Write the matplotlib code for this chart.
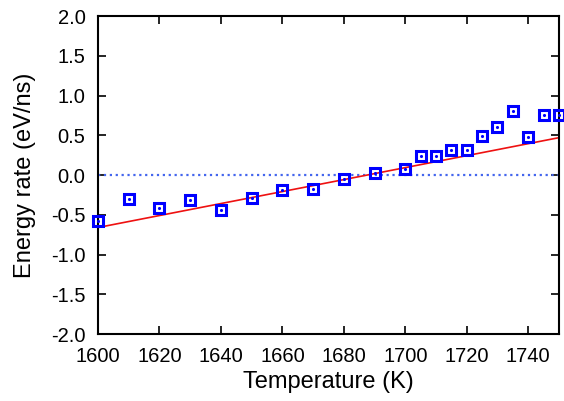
import matplotlib
matplotlib.use('Agg')
import matplotlib.pyplot as plt

plt.rcParams['font.family'] = ['Liberation Sans', 'DejaVu Sans']

# measured energy rates
temps = [1600, 1610, 1620, 1630, 1640, 1650, 1660, 1670, 1680, 1690, 1700,
         1705, 1710, 1715, 1720, 1725, 1730, 1735, 1740, 1745, 1750]
rates = [-0.58, -0.30, -0.41, -0.32, -0.44, -0.29, -0.19, -0.17, -0.05, 0.03, 0.08,
         0.24, 0.24, 0.32, 0.32, 0.49, 0.61, 0.81, 0.48, 0.76, 0.76]

# linear fit line (end points)
fit_t = [1600, 1750]
fit_r = [-0.66, 0.47]

xticks = [1600, 1620, 1640, 1660, 1680, 1700, 1720, 1740]
yticks = [-2.0, -1.5, -1.0, -0.5, 0.0, 0.5, 1.0, 1.5, 2.0]

fig = plt.figure(figsize=(5.64, 4.01), dpi=100)
ax = fig.add_axes([0.1738, 0.167, 0.8172, 0.793])

ax.axhline(0, color='#4466ee', linestyle=':', linewidth=1.6)
ax.plot(fit_t, fit_r, color='#ee1111', linewidth=1.2)
ax.plot(temps, rates, linestyle='none', marker='s', markersize=7.5,
        markerfacecolor='none', markeredgecolor='#0000ff', markeredgewidth=2.2,
        clip_on=False, zorder=5)
ax.plot(temps, rates, linestyle='none', marker='.', markersize=2.5,
        color='#0000ff', clip_on=False, zorder=6)

ax.set_xlim(1600, 1750)
ax.set_ylim(-2.0, 2.0)
ax.set_xticks(xticks)
ax.set_yticks(yticks)
ax.set_yticklabels([f'{v:.1f}' for v in yticks])
ax.tick_params(direction='in', length=6, width=1.2, top=True, right=True,
               labelsize=14.5, pad=9)
for s in ax.spines.values():
    s.set_linewidth(1.5)

ax.set_xlabel('Temperature (K)', fontsize=17, labelpad=4)
ax.set_ylabel('Energy rate (eV/ns)', fontsize=17, labelpad=11)

plt.savefig('out.png', dpi=100)
